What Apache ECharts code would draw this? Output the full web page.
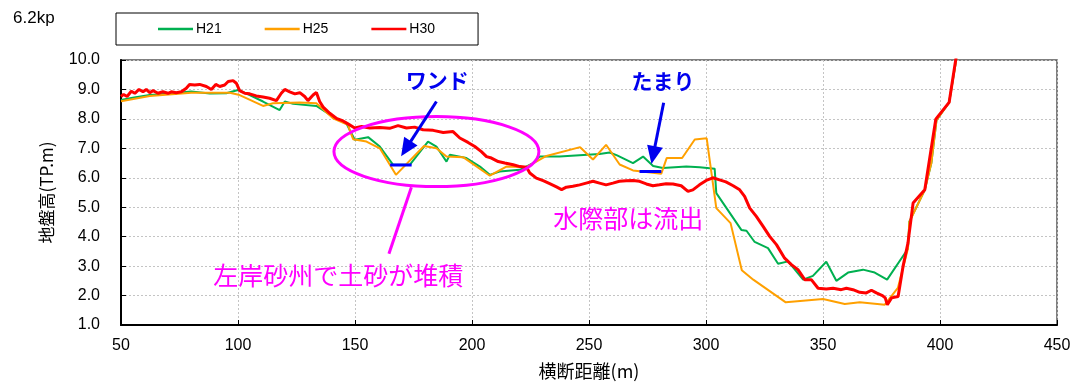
<!DOCTYPE html>
<html>
<head>
<meta charset="utf-8">
<script src="https://cdn.jsdelivr.net/npm/echarts@6/dist/echarts.min.js"></script>
<style>
  html, body { margin: 0; padding: 0; background: #ffffff; }
  #chart { width: 1086px; height: 384px; }
</style>
</head>
<body>
<div id="chart"></div>
<script>
// Cross-section survey at 6.2kp: ground elevation (TP.m) against lateral distance (m)
const seriesNames = ['H21', 'H25', 'H30'];

const h21Dist = [50, 55, 62.3, 70, 80, 88, 95, 100, 105, 110.7, 117.8, 120, 123.6, 133.5, 140.6, 146.3,
  147.7, 149.9, 155.6, 160.6, 166.3, 173.4, 181.2, 184.8, 189.1, 190.5, 197.6, 203.4, 207.6, 211.8, 220.4,
  226.1, 228.9, 237.4, 254.5, 258.8, 262, 268.8, 273.1, 277.4, 281.6, 291.6, 297.3, 303.7, 304.4, 315.1,
  317.3, 320.8, 326.5, 330.8, 335.1, 341.5, 345.7, 351.4, 355.7, 360.7, 367.1, 372.1, 377.4, 386.3, 386.9,
  393.5, 396.3, 398.5, 403.9, 406.9, 408.5];
const h21Elev = [8.64, 8.72, 8.81, 8.85, 8.93, 8.86, 8.87, 8.98, 8.81, 8.59, 8.30, 8.59, 8.51, 8.44, 8.08, 7.85,
  7.63, 7.29, 7.38, 7.06, 6.44, 6.44, 7.23, 7.06, 6.55, 6.78, 6.67, 6.38, 6.10, 6.21, 6.27,
  6.50, 6.72, 6.72, 6.81, 6.86, 6.76, 6.50, 6.72, 6.40, 6.33, 6.38, 6.36, 6.31, 5.48, 4.23,
  4.20, 3.82, 3.61, 3.08, 3.16, 2.54, 2.67, 3.15, 2.50, 2.78, 2.88, 2.78, 2.54, 3.59, 4.51,
  5.59, 6.50, 7.96, 8.56, 10.0, 10.8];

const h25Dist = [50, 62.3, 80, 96.5, 100.7, 110.7, 115, 126.4, 133.5, 140.6, 147, 147.7, 149.2, 154.9, 160.6,
  167.5, 179.5, 184.8, 189.1, 196.2, 207.6, 214.7, 223.3, 231.8, 246.2, 251.7, 257.3, 263.1, 268.8, 280.9,
  283.2, 289.8, 295.2, 300.3, 304.4, 310.5, 315.3, 320.2, 334.1, 350, 359.3, 365.7, 376.4, 382, 386.3,
  386.9, 393.5, 396.3, 398.5, 403.9, 406.9, 408.5];
const h25Elev = [8.60, 8.78, 8.89, 8.89, 8.81, 8.44, 8.53, 8.56, 8.53, 8.02, 7.80, 7.63, 7.31, 7.23, 7.00,
  6.10, 7.08, 7.00, 6.72, 6.70, 6.07, 6.38, 6.36, 6.74, 7.04, 6.62, 7.12, 6.45, 6.25, 6.14,
  6.67, 6.67, 7.30, 7.34, 4.97, 4.46, 2.86, 2.54, 1.77, 1.88, 1.71, 1.77, 1.69, 2.26, 3.60,
  4.50, 5.59, 6.50, 7.96, 8.56, 10.0, 10.8];

const h30Dist = [50, 51.1, 52.6, 54.4, 55.9, 57.7, 59.4, 60.8, 62.3, 63.7, 65.8, 67.9, 70.1, 71.5, 73.6, 75.8,
  77.9, 79.3, 81.5, 83.6, 86.5, 88.6, 90.5, 92.2, 94.3, 95.8, 97.9, 99.3, 100.7, 102.9, 105, 107.8,
  110.7, 113.5, 116.4, 118.5, 120, 122.1, 124.3, 126.4, 128.5, 129.9, 132.1, 133.5, 134.9, 136.4, 139.2,
  142, 144.9, 147, 149.9, 152.8, 156.3, 160.6, 164.8, 168.4, 172, 175.5, 179.1, 183.4, 187.7, 191.9,
  194.8, 198.3, 201.2, 204, 206.2, 208.3, 211.2, 214, 217.6, 220.5, 223.3, 224.7, 227.5, 230.4, 233.2,
  236.1, 238.3, 240.3, 243.1, 246, 248.8, 251.7, 254.5, 257.3, 260.2, 263, 265.9, 268.8, 271.6, 274.5,
  277.3, 280.1, 283, 285.9, 289.4, 292.3, 294.4, 297.2, 300.1, 302.9, 305.8, 308.5, 311.6, 314.4, 316.5,
  318.7, 321.5, 324.4, 327.2, 330.1, 333.6, 336.5, 339.3, 342.2, 345, 347.9, 351.4, 354.3, 357.8, 360,
  362.8, 365.7, 368.5, 370.7, 372.8, 375.4, 376.6, 377.5, 379.3, 382.1, 384.2, 386.3, 388.5, 393.5, 398.2,
  403.9, 406.7, 408.5];
const h30Elev = [8.76, 8.83, 8.76, 8.94, 8.87, 9.00, 8.92, 9.00, 8.89, 8.96, 8.87, 8.92, 8.87, 8.92, 8.89, 8.92,
  9.04, 9.17, 9.15, 9.17, 9.10, 9.00, 9.17, 9.10, 9.15, 9.27, 9.30, 9.21, 8.96, 8.87, 8.85, 8.78,
  8.74, 8.70, 8.62, 8.87, 9.00, 8.92, 8.85, 8.89, 8.76, 8.62, 8.81, 8.90, 8.59, 8.40, 8.19,
  8.02, 7.93, 7.83, 7.69, 7.74, 7.69, 7.71, 7.68, 7.77, 7.69, 7.72, 7.63, 7.61, 7.54, 7.57,
  7.35, 7.20, 7.06, 6.89, 6.72, 6.67, 6.55, 6.50, 6.44, 6.38, 6.36, 6.16, 5.99, 5.90, 5.80,
  5.69, 5.60, 5.68, 5.71, 5.76, 5.82, 5.88, 5.82, 5.76, 5.82, 5.88, 5.90, 5.91, 5.88, 5.79,
  5.73, 5.76, 5.80, 5.79, 5.73, 5.54, 5.59, 5.76, 5.91, 6.00, 5.93, 5.86, 5.73, 5.59, 5.37,
  4.97, 4.69, 4.35, 4.01, 3.73, 3.27, 3.05, 2.88, 2.54, 2.54, 2.25, 2.22, 2.25, 2.20, 2.25,
  2.20, 2.11, 2.09, 2.18, 2.09, 2.00, 1.92, 1.69, 1.92, 1.97, 2.99, 3.78, 5.14, 5.59, 7.99,
  8.56, 10.0, 10.8];

// Water surface markers: pond (ワンド) and pool (たまり)
const wandoDist = [165, 174.2];
const wandoElev = [6.43, 6.43];
const tamariDist = [271.6, 280.9];
const tamariElev = [6.21, 6.21];

const xRange = [50, 450, 50];
const yRange = [1, 10, 1];

const zip = (xs, ys) => xs.map((x, i) => [x, ys[i]]);

const numFont = '"Liberation Sans", Arial, sans-serif';
const jpFont = '"Noto Sans CJK JP", "Noto Sans", sans-serif';

const chart = echarts.init(document.getElementById('chart'), null, { renderer: 'canvas' });

const option = {
  animation: false,
  backgroundColor: '#ffffff',
  title: {
    text: '6.2kp', left: 13, top: 10, padding: 0,
    textStyle: { fontSize: 17, fontWeight: 'normal', color: '#000', fontFamily: numFont }
  },
  legend: {
    data: seriesNames,
    left: 116, top: 13,
    padding: [9, 43, 9, 42],
    icon: 'rect',
    itemWidth: 35, itemHeight: 2.5, itemGap: 43,
    borderColor: '#000', borderWidth: 1, backgroundColor: '#fff',
    textStyle: { fontSize: 14, color: '#000', fontFamily: numFont, padding: [0, 0, 0, -2] }
  },
  grid: {
    left: 121, right: 29, top: 60, bottom: 59,
    show: true, borderColor: '#555', borderWidth: 1.5,
    containLabel: false, outerBoundsMode: 'none'
  },
  xAxis: {
    type: 'value', min: xRange[0], max: xRange[1], interval: xRange[2],
    name: '横断距離(m)', nameLocation: 'middle', nameGap: 37,
    nameTextStyle: { fontSize: 18, color: '#000', fontFamily: jpFont },
    axisLine: { show: true, onZero: false, lineStyle: { color: '#000', width: 2 } },
    axisTick: { show: true, inside: true, length: 5, lineStyle: { color: '#000', width: 1 } },
    axisLabel: { fontSize: 16, color: '#000', margin: 13, fontFamily: numFont },
    splitLine: { show: true, lineStyle: { color: '#c4c4c4', width: 1, type: [2, 2] } }
  },
  yAxis: {
    type: 'value', min: yRange[0], max: yRange[1], interval: yRange[2],
    name: '地盤高(TP.m)', nameLocation: 'middle', nameGap: 66, nameRotate: 90,
    nameTextStyle: { fontSize: 17, color: '#000', fontFamily: jpFont },
    axisLine: { show: true, onZero: false, lineStyle: { color: '#000', width: 2 } },
    axisTick: { show: true, inside: true, length: 5, lineStyle: { color: '#000', width: 1 } },
    axisLabel: { fontSize: 16, color: '#000', margin: 21, fontFamily: numFont,
      formatter: v => v.toFixed(1) },
    splitLine: { show: true, lineStyle: { color: '#c4c4c4', width: 1, type: [2, 2] } }
  },
  series: [
    { name: 'H21', type: 'line', data: zip(h21Dist, h21Elev), symbol: 'none', clip: true,
      lineStyle: { color: '#00B050', width: 2 }, itemStyle: { color: '#00B050' }, z: 2 },
    { name: 'H25', type: 'line', data: zip(h25Dist, h25Elev), symbol: 'none', clip: true,
      lineStyle: { color: '#FFA000', width: 2 }, itemStyle: { color: '#FFA000' }, z: 3 },
    { name: 'H30', type: 'line', data: zip(h30Dist, h30Elev), symbol: 'none', clip: true,
      lineStyle: { color: '#FF0000', width: 3 }, itemStyle: { color: '#FF0000' }, z: 4 },
    { name: 'ワンド水面', type: 'line', data: zip(wandoDist, wandoElev), symbol: 'none',
      lineStyle: { color: '#0000FF', width: 3 }, z: 5, silent: true },
    { name: 'たまり水面', type: 'line', data: zip(tamariDist, tamariElev), symbol: 'none',
      lineStyle: { color: '#0000FF', width: 3 }, z: 5, silent: true }
  ]
};

chart.setOption(option);

// Callouts, anchored in data coordinates
const notes = {
  sandbar: { center: [184.8, 6.89], rx: 43.8, ry: 1.19 },
  sandbarLeader: [[174.1, 5.68], [164.5, 3.42]],
  sandbarText: { at: [142.8, 2.67], text: '左岸砂州で土砂が堆積' },
  shoreText: { at: [266.8, 4.63], text: '水際部は流出' },
  wandoText: { at: [185.1, 9.32], text: 'ワンド' },
  wandoArrow: [[184.8, 8.59], [169.7, 6.73]],
  tamariText: { at: [281.6, 9.30], text: 'たまり' },
  tamariArrow: [[281.9, 8.55], [276.7, 6.47]]
};

const toPx = p => chart.convertToPixel({ gridIndex: 0 }, p);

function arrow(from, to, color) {
  const s = toPx(from), t = toPx(to);
  const dx = t[0] - s[0], dy = t[1] - s[1];
  const len = Math.hypot(dx, dy);
  const ux = dx / len, uy = dy / len;
  const headLen = 18, headHalf = 8;
  const bx = t[0] - ux * headLen, by = t[1] - uy * headLen;
  const nx = -uy, ny = ux;
  return [
    { type: 'line', z: 100, shape: { x1: s[0], y1: s[1], x2: bx + ux * 2, y2: by + uy * 2 },
      style: { stroke: color, lineWidth: 3 } },
    { type: 'polygon', z: 100,
      shape: { points: [[t[0], t[1]], [bx + nx * headHalf, by + ny * headHalf], [bx - nx * headHalf, by - ny * headHalf]] },
      style: { fill: color } }
  ];
}

function label(note, font, color) {
  const p = toPx(note.at);
  return { type: 'text', z: 100, x: p[0], y: p[1],
    style: { text: note.text, font: font, fill: color,
      align: 'center', verticalAlign: 'middle', textAlign: 'center', textVerticalAlign: 'middle' } };
}

const c = toPx(notes.sandbar.center);
const cx = toPx([notes.sandbar.center[0] + notes.sandbar.rx, notes.sandbar.center[1]]);
const cy = toPx([notes.sandbar.center[0], notes.sandbar.center[1] + notes.sandbar.ry]);
const l0 = toPx(notes.sandbarLeader[0]), l1 = toPx(notes.sandbarLeader[1]);

const magenta = '#FF00FF';
const blue = '#0000EE';

chart.setOption({
  graphic: [
    { type: 'ellipse', z: 100,
      shape: { cx: c[0], cy: c[1], rx: Math.abs(cx[0] - c[0]), ry: Math.abs(cy[1] - c[1]) },
      style: { fill: null, stroke: magenta, lineWidth: 3 } },
    { type: 'line', z: 100, shape: { x1: l0[0], y1: l0[1], x2: l1[0], y2: l1[1] },
      style: { stroke: magenta, lineWidth: 3 } },
    label(notes.sandbarText, '25px ' + jpFont, magenta),
    label(notes.shoreText, '25px ' + jpFont, magenta),
    label(notes.wandoText, 'bold 21px ' + jpFont, blue),
    label(notes.tamariText, 'bold 21px ' + jpFont, blue),
    ...arrow(notes.wandoArrow[0], notes.wandoArrow[1], blue),
    ...arrow(notes.tamariArrow[0], notes.tamariArrow[1], blue)
  ]
});
</script>
</body>
</html>
